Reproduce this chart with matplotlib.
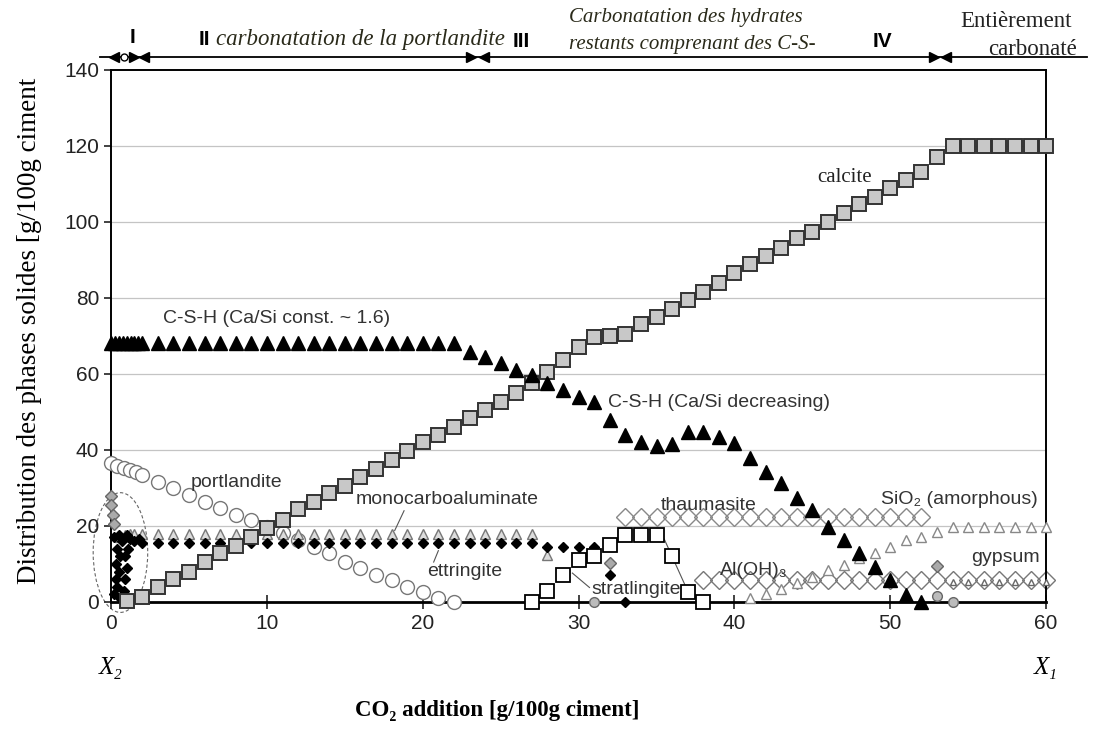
import matplotlib.pyplot as plt
from matplotlib.patches import Ellipse

SANS = ['Liberation Sans', 'DejaVu Sans']
SERIF = ['Liberation Serif', 'DejaVu Serif']

# calcite (open gray squares)
calcite_x = list(range(1, 61))
calcite_y = [0.3, 1.3, 4, 6, 8, 10.5, 12.9, 14.7, 17, 19.5, 21.5, 24.5, 26.3, 28.7,
             30.5, 33, 35, 37.4, 39.8, 42, 44, 46, 48.5, 50.6, 52.6, 55, 57.5, 60.5,
             63.7, 67, 69.7, 70, 70.5, 73, 75, 77, 79.5, 81.6, 84, 86.6, 89, 91, 93,
             95.8, 97.4, 100, 102.4, 104.7, 106.6, 109, 111, 113, 117,
             120, 120, 120, 120, 120, 120, 120]

# C-S-H (filled triangles)
csh_x = [0, 0.25, 0.5, 0.75, 1, 1.25, 1.5, 1.75, 2] + list(range(3, 53))
csh_y = [68] * 9 + [68] * 20 + [65.8, 64.4, 63, 61, 59.7, 57.6, 55.8, 54, 52.6, 47.9,
                                44, 42, 41, 41.5, 44.7, 44.7, 43.4, 41.8, 37.9, 34.2,
                                31.3, 27.4, 24.2, 19.7, 16.3, 12.9, 9.2, 5.8, 1.8, 0]

# portlandite (open circles)
port_x = [0, 0.4, 0.8, 1.2, 1.6, 2] + list(range(3, 23))
port_y = [36.5, 35.8, 35.3, 34.8, 34.2, 33.4, 31.6, 30, 28.2, 26.3, 24.7, 22.9, 21.6,
          19.7, 18.2, 16.3, 14.5, 12.9, 10.5, 8.9, 7.1, 5.8, 3.9, 2.6, 1, 0]

# monocarboaluminate (open triangles)
mono_x = [0.6, 0.9, 1.2, 1.5] + list(range(2, 29))
mono_y = [17, 17.5, 18, 18] + [18] * 26 + [12.4]

# ettringite (filled diamonds)
ett_x = [0.2, 0.4, 0.3, 0.5, 0.3, 0.6, 0.4, 0.7, 0.8, 0.9, 1.0, 0.9, 1.1, 0.6, 1.2,
         1.5, 1.8, 0.2, 0.5, 1.0] + list(range(2, 34))
ett_y = [2, 4, 6, 8, 10, 12, 14, 16, 3, 6, 9, 12, 14, 1, 16.5, 16, 16.5, 17, 17.5,
         17.5] + [15.5] * 26 + [14.5, 14.5, 14.5, 14.5, 7, 0]

# stratlingite (open white squares)
strat_x = list(range(27, 39))
strat_y = [0, 2.9, 7, 11, 12, 15, 17.6, 17.6, 17.6, 12, 2.5, 0]

# thaumasite (open diamonds)
thau_x = list(range(33, 53))
thau_y = [22.4] * 20

# SiO2 amorphous (small open triangles)
sio2_x = list(range(41, 61))
sio2_y = [1, 2, 3.3, 5, 6.5, 8.4, 9.8, 11.5, 13, 14.5, 16.3, 17, 18.4,
          19.8, 19.8, 19.8, 19.8, 19.8, 19.8, 19.8]

# Al(OH)3 (open diamonds)
aloh_x = list(range(38, 61))
aloh_y = [5.8] * 23

# gypsum
gyp_x = [0, 0, 0.1, 0.2, 32, 53]
gyp_y = [28, 25.5, 23, 20.5, 10.3, 9.5]
gyp2_x = list(range(54, 61))
gyp2_y = [5.3] * 7

# other small circles
oth_x = [31, 53, 54]
oth_y = [0, 1.5, 0]

fig = plt.figure(figsize=(11, 7.35), dpi=100)
ax = fig.add_axes([0.101, 0.181, 0.850, 0.724])
ax.set_xlim(0, 60)
ax.set_ylim(0, 140)

for y in range(20, 140, 20):
    ax.axhline(y, color='#c4c4c4', lw=0.9, zorder=0)

kw = dict(ls='none', clip_on=False)
ax.plot(aloh_x, aloh_y, marker='D', ms=9.5, mfc='none', mec='#777', mew=1, zorder=2, **kw)
ax.plot(gyp2_x, gyp2_y, marker='^', ms=5, mfc='white', mec='#666', mew=1, zorder=3, **kw)
ax.plot(thau_x, thau_y, marker='D', ms=9.5, mfc='none', mec='#888', mew=1, zorder=2, **kw)
ax.plot(sio2_x, sio2_y, marker='^', ms=7, mfc='white', mec='#888', mew=1, zorder=3, **kw)
ax.plot(port_x, port_y, marker='o', ms=10, mfc='white', mec='#777', mew=1, zorder=3, **kw)
ax.plot(mono_x, mono_y, marker='^', ms=7, mfc='#dcdcdc', mec='#777', mew=1, zorder=3, **kw)
ax.plot(ett_x, ett_y, marker='D', ms=5, mfc='black', mec='black', zorder=4, **kw)
ax.plot(gyp_x, gyp_y, marker='D', ms=6, mfc='#aaa', mec='#666', mew=1, zorder=4, **kw)
ax.plot(oth_x, oth_y, marker='o', ms=7, mfc='#bbb', mec='#666', mew=1, zorder=4, **kw)
ax.plot(strat_x, strat_y, marker='s', ms=10, mfc='white', mec='black', mew=1.3, zorder=5, **kw)
ax.plot(calcite_x, calcite_y, marker='s', ms=9.5, mfc='#c8c8c8', mec='#333', mew=1.4, zorder=5, **kw)
ax.plot(csh_x, csh_y, marker='^', ms=9.5, mfc='black', mec='black', zorder=6, **kw)

# leader lines
lk = dict(color='#555', lw=0.8)
ax.plot([18.8, 18.2], [24, 18.8], **lk)
ax.plot([21.0, 20.7], [13.5, 10.5], **lk)
ax.plot([29.6, 30.7], [7.6, 3.8], **lk)
ax.plot([35.5, 36.9], [16.5, 3.8], **lk)

ax.add_patch(Ellipse((0.6, 13), 3.5, 31.5, fill=False, ls=(0, (3, 2)), ec='#666',
                     lw=0.8, clip_on=False))

# series labels
lab = dict(family=SANS, fontsize=14, color='#333')
ax.text(3.3, 74.7, 'C-S-H (Ca/Si const. ~ 1.6)', va='center', **lab)
ax.text(31.9, 52.4, 'C-S-H (Ca/Si decreasing)', va='center', **lab)
ax.text(5.1, 31.5, 'portlandite', va='center', **lab)
ax.text(15.7, 27, 'monocarboaluminate', va='center', **lab)
ax.text(20.3, 8, 'ettringite', va='center', **lab)
ax.text(30.8, 3.2, 'stratlingite', va='center', **lab)
ax.text(35.3, 25.5, 'thaumasite', va='center', **lab)
ax.text(49.4, 27, 'SiO₂ (amorphous)', va='center', **lab)
ax.text(55.2, 11.6, 'gypsum', va='center', **lab)
ax.text(39.1, 8.4, 'Al(OH)₃', va='center', **lab)
ax.text(45.3, 111.6, 'calcite', va='center', family=SERIF, fontsize=15, color='#222')

# domain arrows above the plot
ya = 143.5
ax.plot([-0.7, 62.6], [ya, ya], color='black', lw=1.3, clip_on=False)
ax.plot([0.2, 2.1, 23.9, 53.6], [ya] * 4, ls='none', marker='<', ms=7, color='black', clip_on=False)
ax.plot([1.5, 23.1, 52.8], [ya] * 3, ls='none', marker='>', ms=7, color='black', clip_on=False)
ax.plot([0.8], [ya], ls='none', marker='o', ms=5, mfc='white', mec='black', clip_on=False)

rom = dict(family=SANS, fontsize=15, fontweight='bold', ha='center', va='center')
ax.text(1.4, 148.4, 'I', **rom)
ax.text(6.0, 147.9, 'II', **rom)
ax.text(26.3, 147.4, 'III', **rom)
ax.text(49.5, 147.4, 'IV', **rom)
it = dict(family=SERIF, style='italic', color='#2a2a1a', va='center')
ax.text(6.7, 147.9, 'carbonatation de la portlandite', fontsize=16.5, **it)
ax.text(29.4, 153.7, 'Carbonatation des hydrates', fontsize=15, **it)
ax.text(29.4, 146.6, 'restants comprenant des C-S-', fontsize=15, **it)
ax.text(54.5, 152.6, 'Entièrement', family=SERIF, fontsize=16.5, va='center', color='#222')
ax.text(56.3, 145.3, 'carbonaté', family=SERIF, fontsize=16.5, va='center', color='#222')

ax.text(0, -17.4, 'X₂', ha='center', va='center', family=SERIF, style='italic', fontsize=18)
ax.text(60, -17.4, 'X₁', ha='center', va='center', family=SERIF, style='italic', fontsize=18)

ax.set_xticks(range(0, 61, 10))
ax.set_yticks(range(0, 141, 20))
ax.tick_params(axis='x', direction='inout', length=10, width=1.2, labelsize=15, pad=4, colors='#222')
ax.tick_params(axis='y', direction='out', length=5, width=1.2, labelsize=15, colors='#222')
for t in ax.get_xticklabels() + ax.get_yticklabels():
    t.set_family(SANS)
for s in ax.spines.values():
    s.set_linewidth(1.4)
ax.spines['bottom'].set_linewidth(2)

fig.text(0.027, 0.55, 'Distribution des phases solides [g/100g ciment', rotation=90,
         ha='center', va='center', family=SERIF, fontsize=19.5)
fig.text(0.452, 0.034, 'CO₂ addition [g/100g ciment]', ha='center', va='center',
         family=SERIF, fontsize=16.5, fontweight='bold')

fig.savefig('out.png', dpi=100)
